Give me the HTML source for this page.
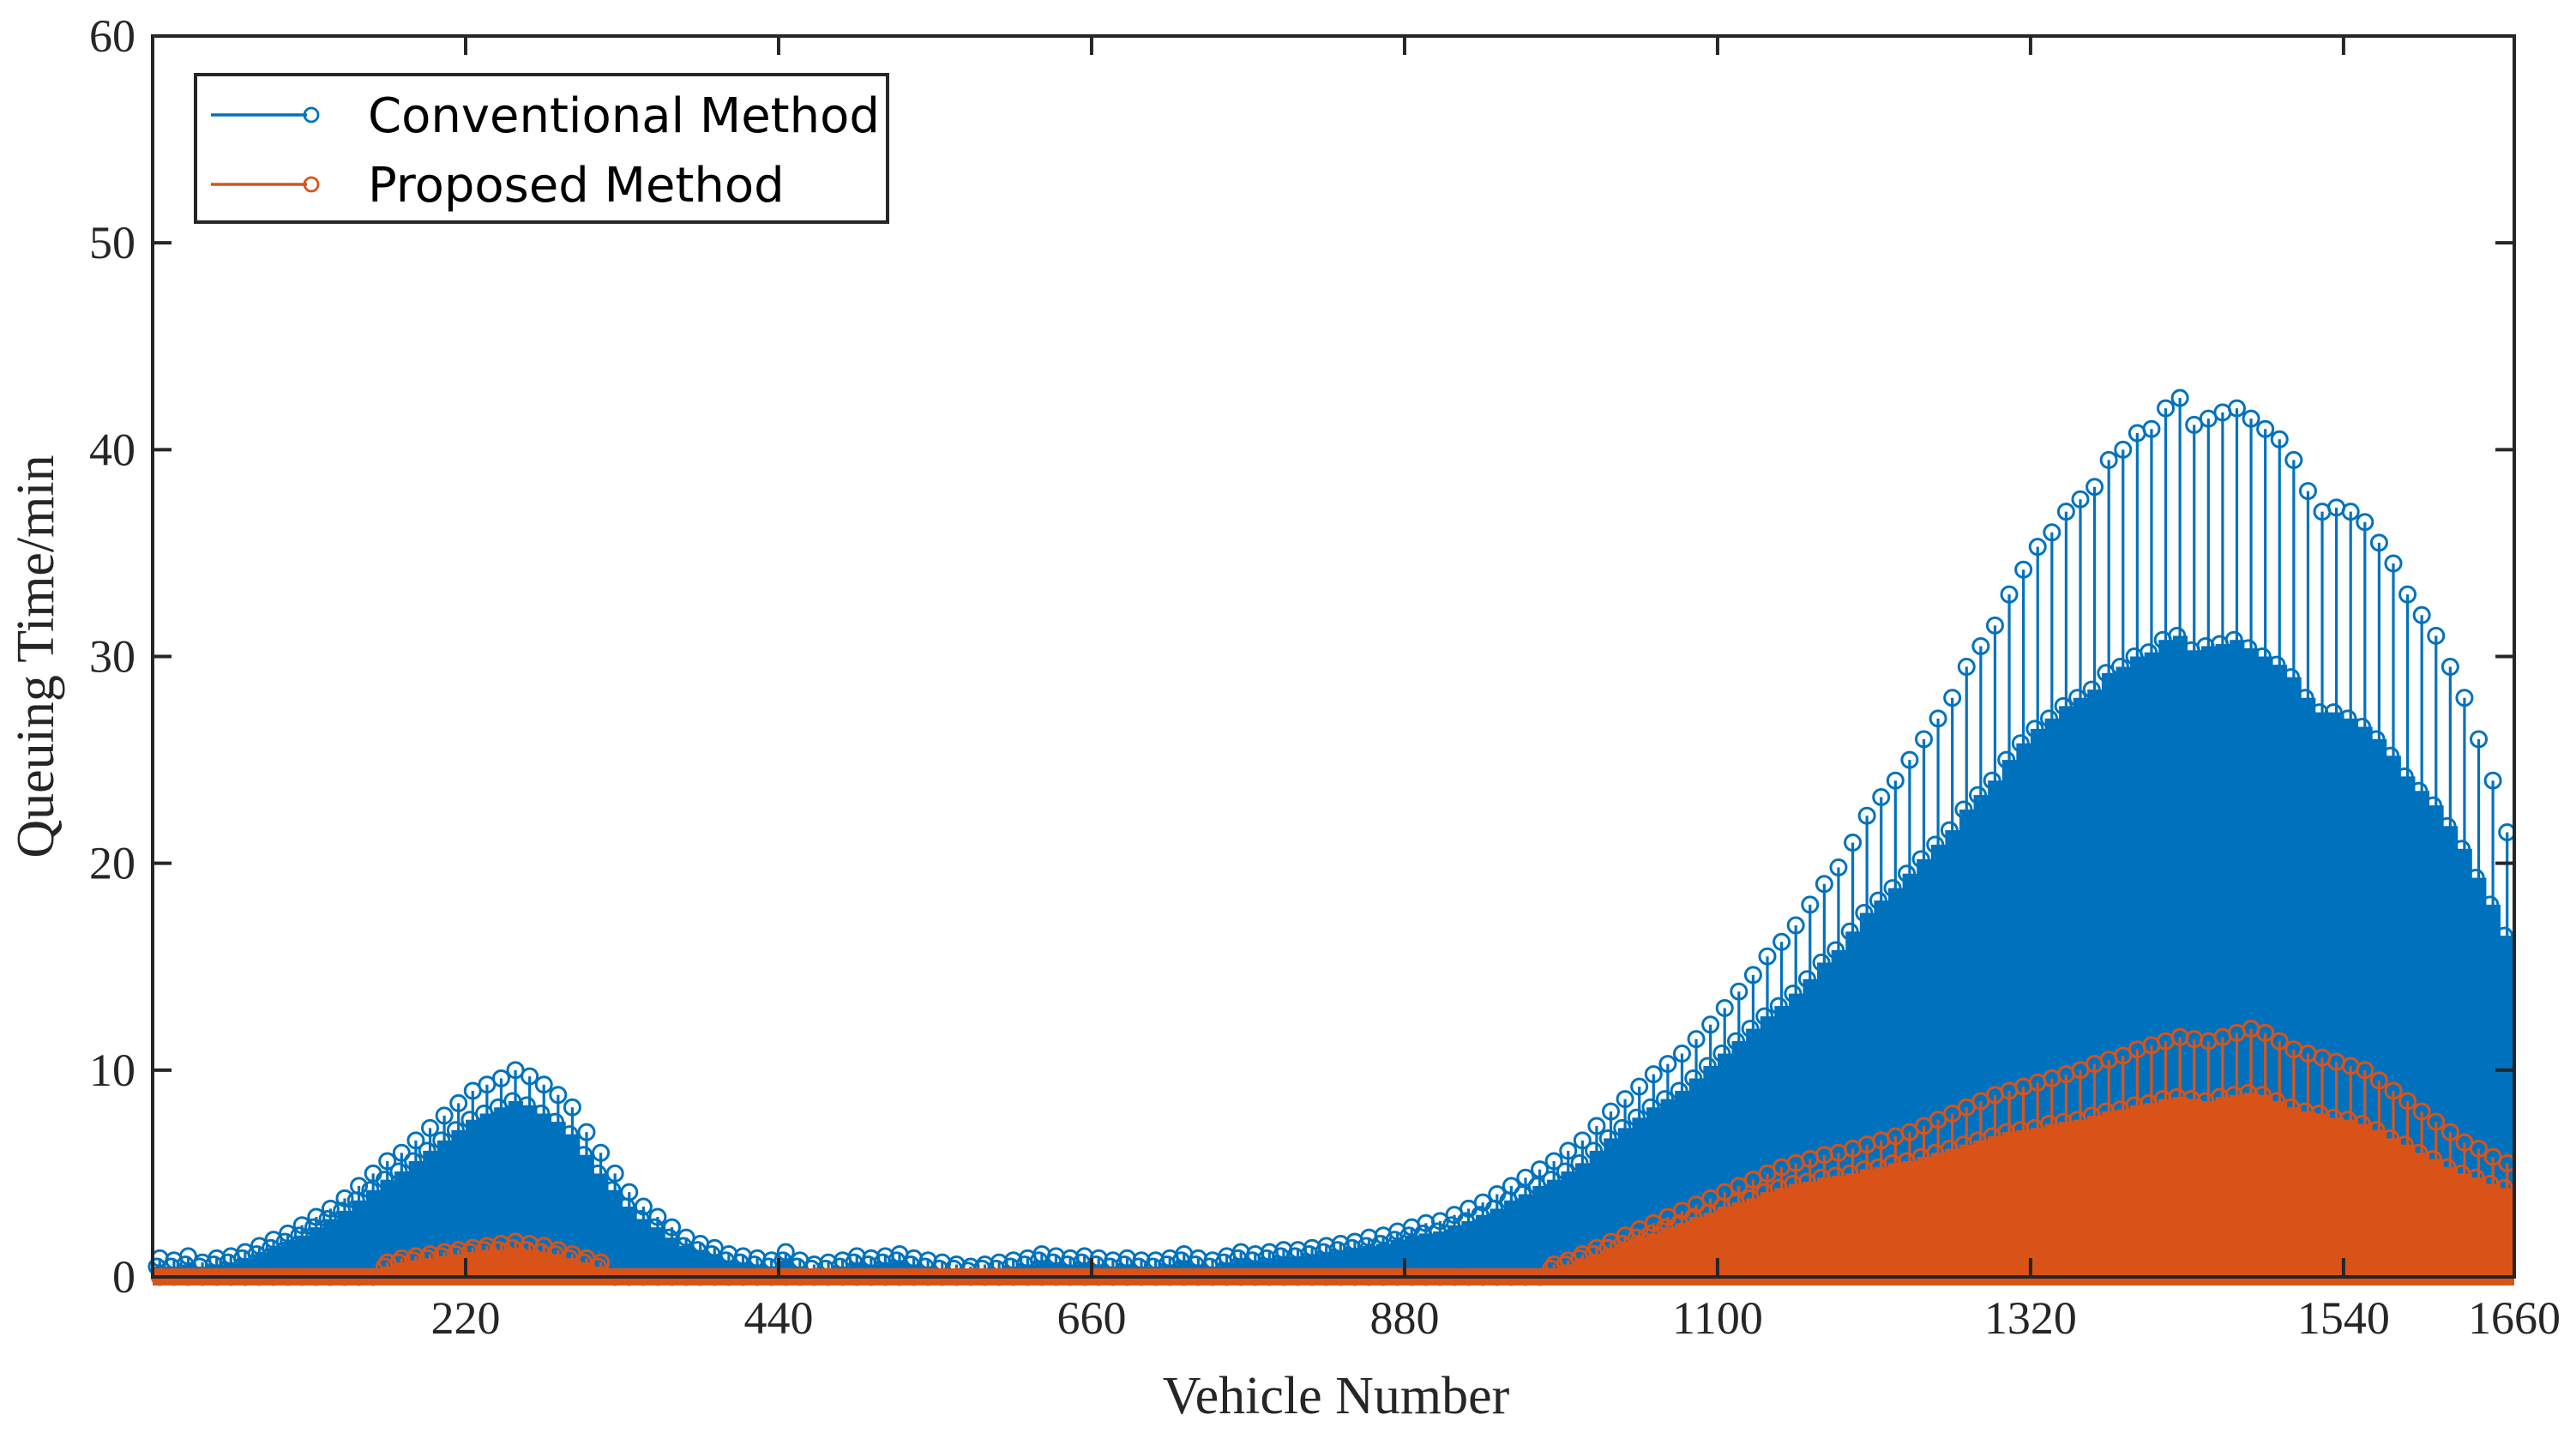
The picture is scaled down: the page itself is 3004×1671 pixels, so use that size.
<!DOCTYPE html>
<html><head><meta charset="utf-8"><style>
html,body{margin:0;padding:0;background:#fff;}
svg{display:block;}
</style></head><body>
<svg id="chart" width="3004" height="1671" viewBox="0 0 3004 1671" xmlns="http://www.w3.org/2000/svg">
<rect x="0" y="0" width="3004" height="1671" fill="#fff"/>
<g id="plot"></g>
<g id="axes"></g>
</svg>
<script>
const xTicks = [220, 440, 660, 880, 1100, 1320, 1540, 1660];
const yTicks = [0, 10, 20, 30, 40, 50, 60];
const binSize = 10;
const convPeak = [0.9,0.8,1.0,0.7,0.9,1.0,1.2,1.5,1.8,2.1,
2.5,2.9,3.3,3.8,4.4,5.0,5.6,6.0,6.6,7.2,
7.8,8.4,9.0,9.3,9.6,10.0,9.7,9.3,8.8,8.2,
7.0,6.0,5.0,4.1,3.4,2.9,2.4,1.9,1.6,1.4,
1.1,1.0,0.9,0.8,1.2,0.8,0.6,0.7,0.8,1.0,
0.9,1.0,1.1,0.9,0.8,0.7,0.6,0.5,0.6,0.7,
0.8,0.9,1.1,1.0,0.9,1.0,0.9,0.8,0.9,0.8,
0.8,0.9,1.1,0.9,0.8,1.0,1.2,1.1,1.2,1.3,
1.3,1.4,1.5,1.6,1.7,1.9,2.0,2.2,2.4,2.6,
2.7,3.0,3.3,3.6,4.0,4.4,4.8,5.2,5.6,6.1,
6.6,7.3,8.0,8.6,9.2,9.8,10.3,10.8,11.5,12.2,
13.0,13.8,14.6,15.5,16.2,17.0,18.0,19.0,19.8,21.0,
22.3,23.2,24.0,25.0,26.0,27.0,28.0,29.5,30.5,31.5,
33.0,34.2,35.3,36.0,37.0,37.6,38.2,39.5,40.0,40.8,
41.0,42.0,42.5,41.2,41.5,41.8,42.0,41.5,41.0,40.5,
39.5,38.0,37.0,37.2,37.0,36.5,35.5,34.5,33.0,32.0,
31.0,29.5,28.0,26.0,24.0,21.5];
const convBody = [0.5,0.5,0.6,0.5,0.6,0.7,0.9,1.1,1.4,1.7,
2.0,2.4,2.8,3.2,3.7,4.2,4.7,5.1,5.6,6.1,
6.6,7.1,7.6,7.9,8.2,8.5,8.3,7.9,7.5,6.9,
5.9,5.0,4.2,3.4,2.8,2.4,1.9,1.5,1.3,1.1,
0.8,0.7,0.6,0.5,0.8,0.5,0.4,0.4,0.5,0.7,
0.6,0.7,0.8,0.6,0.5,0.4,0.4,0.3,0.4,0.4,
0.5,0.6,0.8,0.7,0.6,0.7,0.6,0.5,0.6,0.5,
0.5,0.6,0.8,0.6,0.5,0.7,0.9,0.8,0.9,1.0,
1.0,1.1,1.2,1.3,1.4,1.5,1.6,1.8,2.0,2.1,
2.2,2.5,2.7,3.0,3.3,3.7,4.0,4.4,4.7,5.1,
5.5,6.1,6.7,7.2,7.7,8.2,8.6,9.0,9.6,10.2,
10.8,11.4,12.0,12.6,13.1,13.7,14.4,15.2,15.8,16.7,
17.6,18.2,18.8,19.5,20.2,20.9,21.6,22.6,23.3,24.0,
25.0,25.8,26.5,27.0,27.6,28.0,28.4,29.2,29.5,30.0,
30.2,30.8,31.0,30.3,30.5,30.6,30.8,30.4,30.0,29.6,
29.0,28.0,27.3,27.3,27.0,26.6,26.0,25.2,24.2,23.5,
22.8,21.8,20.7,19.3,18.0,16.5];
const propPeak = [0,0,0,0,0,0,0,0,0,0,
0,0,0,0,0,0,0.7,0.9,1.0,1.1,
1.2,1.3,1.4,1.5,1.6,1.7,1.6,1.5,1.3,1.1,
0.9,0.7,0,0,0,0,0,0,0,0,
0,0,0,0,0,0,0,0,0,0,
0,0,0,0,0,0,0,0,0,0,
0,0,0,0,0,0,0,0,0,0,
0,0,0,0,0,0,0,0,0,0,
0,0,0,0,0,0,0,0,0,0,
0,0,0,0,0,0,0,0,0.6,0.8,
1.1,1.4,1.7,2.0,2.3,2.6,2.9,3.2,3.5,3.8,
4.1,4.4,4.7,5.0,5.3,5.5,5.7,5.9,6.0,6.2,
6.4,6.6,6.8,7.0,7.3,7.6,7.9,8.2,8.5,8.8,
9.0,9.2,9.4,9.6,9.8,10.0,10.3,10.5,10.7,11.0,
11.2,11.4,11.6,11.5,11.4,11.6,11.8,12.0,11.8,11.4,
11.0,10.8,10.6,10.4,10.2,10.0,9.5,9.0,8.5,8.0,
7.5,7.0,6.5,6.2,5.8,5.5];
const propBody = [0,0,0,0,0,0,0,0,0,0,
0,0,0,0,0,0,0.5,0.7,0.8,0.9,
1.0,1.1,1.2,1.3,1.3,1.4,1.3,1.2,1.1,0.9,
0.7,0.5,0,0,0,0,0,0,0,0,
0,0,0,0,0,0,0,0,0,0,
0,0,0,0,0,0,0,0,0,0,
0,0,0,0,0,0,0,0,0,0,
0,0,0,0,0,0,0,0,0,0,
0,0,0,0,0,0,0,0,0,0,
0,0,0,0,0,0,0,0,0.4,0.6,
0.9,1.1,1.4,1.6,1.9,2.1,2.4,2.6,2.9,3.1,
3.4,3.6,3.8,4.1,4.3,4.5,4.6,4.8,4.9,5.0,
5.2,5.3,5.5,5.6,5.8,6.0,6.2,6.4,6.6,6.8,
7.0,7.1,7.2,7.4,7.5,7.6,7.8,8.0,8.1,8.3,
8.4,8.6,8.7,8.6,8.5,8.7,8.8,8.9,8.8,8.5,
8.2,8.0,7.9,7.7,7.6,7.4,7.1,6.7,6.4,6.0,
5.7,5.3,5.0,4.8,4.5,4.3];

const NS = 'http://www.w3.org/2000/svg';
const L = 178, R = 2932, T = 42, B = 1489;
const xMin = 0, xMax = 1660, yMin = 0, yMax = 60;
function xs(v){ return L + (v - xMin) / (xMax - xMin) * (R - L); }
function ys(v){ return B - (v - yMin) / (yMax - yMin) * (B - T); }
function mk(tag, attrs, parent){
  const e = document.createElementNS(NS, tag);
  for (const k in attrs) e.setAttribute(k, attrs[k]);
  parent.appendChild(e);
  return e;
}
const plot = document.getElementById('plot');
const axes = document.getElementById('axes');

function drawSeries(peak, body, color, name){
  const g = mk('g', {}, plot);
  
  
  const w = xs(binSize) - xs(0);
  for (let i = 0; i < peak.length; i++){
    const v0 = i * binSize;
    if (body[i] > 0){
      const r = mk('rect', {x: xs(v0), y: ys(body[i]), width: w + 0.6, height: ys(0) - ys(body[i]), fill: color}, g);
      
      
      const cb = mk('circle', {cx: xs(v0 + binSize * 0.3), cy: ys(body[i]), r: 9, fill: 'none', stroke: color, 'stroke-width': 3}, g);
      
      
    }
    const cx = xs(v0 + binSize / 2);
    if (peak[i] > 0){
      const s = mk('line', {x1: cx, x2: cx, y1: ys(0), y2: ys(peak[i]), stroke: color, 'stroke-width': 3.2}, g);
      
      
    }
    const c = mk('circle', {cx: cx, cy: ys(peak[i]), r: 9, fill: 'none', stroke: color, 'stroke-width': 3}, g);
    
    
  }
}
drawSeries(convPeak, convBody, '#0072BD', 'conventional');
drawSeries(propPeak, propBody, '#D95319', 'proposed');
const band = mk('rect', {x: xs(0), y: ys(0) - 10, width: xs(1660) - xs(0), height: 20, fill: '#D95319'}, plot);



const box = mk('rect', {x: L, y: T, width: R - L, height: B - T, fill: 'none', stroke: '#262626', 'stroke-width': 4}, axes);



const font = '"Liberation Serif", serif';
yTicks.forEach(v => {
  const y = ys(v);
  const t1 = mk('line', {x1: L, x2: L + 22, y1: y, y2: y, stroke: '#262626', 'stroke-width': 4}, axes);
  
  
  const t2 = mk('line', {x1: R, x2: R - 22, y1: y, y2: y, stroke: '#262626', 'stroke-width': 4}, axes);
  
  
  const tx = mk('text', {x: L - 20, y: y + 18, 'text-anchor': 'end', 'font-family': font, 'font-size': 54, fill: '#262626'}, axes);
  tx.textContent = v;
  
  
});
xTicks.forEach(v => {
  const x = xs(v);
  const t1 = mk('line', {x1: x, x2: x, y1: B, y2: B - 22, stroke: '#262626', 'stroke-width': 4}, axes);
  
  
  const t2 = mk('line', {x1: x, x2: x, y1: T, y2: T + 22, stroke: '#262626', 'stroke-width': 4}, axes);
  
  
  const tx = mk('text', {x: x, y: B + 66, 'text-anchor': 'middle', 'font-family': font, 'font-size': 54, fill: '#262626'}, axes);
  tx.textContent = v;
  
  
});
const xt = mk('text', {x: (L + R) / 2 + 3, y: 1648, 'text-anchor': 'middle', 'font-family': font, 'font-size': 62, fill: '#262626'}, axes);
xt.textContent = 'Vehicle Number';


const yt = mk('text', {x: 0, y: 0, 'text-anchor': 'middle', 'font-family': font, 'font-size': 62, fill: '#262626', transform: 'translate(62,' + (T + B) / 2 + ') rotate(-90)'}, axes);
yt.textContent = 'Queuing Time/min';



const lg = mk('g', {}, axes);


mk('rect', {x: 228, y: 87, width: 807, height: 172, fill: '#fff', stroke: '#262626', 'stroke-width': 4}, lg);
const entries = [['Conventional Method', '#0072BD', 134], ['Proposed Method', '#D95319', 215]];
entries.forEach(e => {
  const g = mk('g', {}, lg);
  
  
  mk('line', {x1: 246, x2: 358, y1: e[2], y2: e[2], stroke: e[1], 'stroke-width': 3.5}, g);
  mk('circle', {cx: 363, cy: e[2], r: 8, fill: 'none', stroke: e[1], 'stroke-width': 2.8}, g);
  const t = mk('text', {x: 429, y: e[2] + 20, 'font-family': '"DejaVu Sans", "Liberation Sans", sans-serif', 'font-size': 56, fill: '#000'}, g);
  t.textContent = e[0];
  
  
});
</script>
</body></html>
